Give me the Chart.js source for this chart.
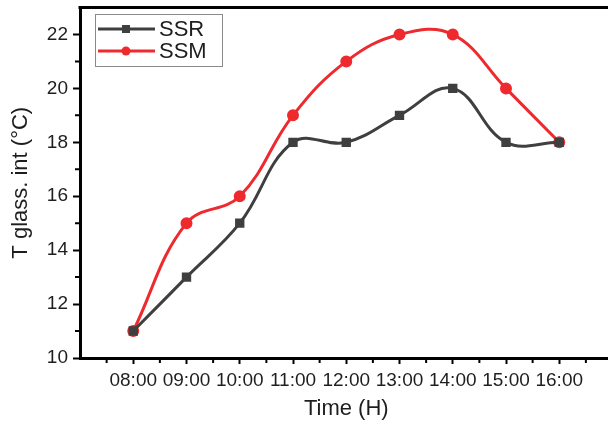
<!DOCTYPE html>
<html>
<head>
<meta charset="utf-8">
<script src="https://cdn.jsdelivr.net/npm/chart.js@4.4.1/dist/chart.umd.min.js"></script>
<style>
  html, body { margin: 0; padding: 0; background: #fff; overflow: hidden; }
  #wrap { width: 620px; height: 426px; }
</style>
</head>
<body>
<div id="wrap"><canvas id="glassChart" width="620" height="426"></canvas></div>
<script>
// Glass interior temperature, SSR vs SSM

const hours = [8, 9, 10, 11, 12, 13, 14, 15, 16];
const hourLabels = ['08:00', '09:00', '10:00', '11:00', '12:00', '13:00', '14:00', '15:00', '16:00'];
const ssr = [11, 13, 15, 18, 18, 19, 20, 18, 18];
const ssm = [11, 15, 16, 19, 21, 22, 22, 20, 18];
const yTicks = [10, 12, 14, 16, 18, 20, 22];

const FONT = '"Liberation Sans", Arial, sans-serif';
const TEXT = '#1e1e1e';

// top frame line, minor ticks and the boxed legend
const framePlugin = {
  id: 'frame',
  afterDraw(chart) {
    const { ctx, chartArea: a, scales: { x, y } } = chart;
    ctx.save();
    ctx.strokeStyle = '#000';
    ctx.lineWidth = 3;
    ctx.beginPath();
    ctx.moveTo(a.left - 1.5, a.top);
    ctx.lineTo(a.right + 10, a.top);
    ctx.stroke();

    // minor ticks
    ctx.lineWidth = 2;
    ctx.beginPath();
    for (let v = 11; v < 23; v += 2) {
      const py = y.getPixelForValue(v);
      ctx.moveTo(a.left - 1, py);
      ctx.lineTo(a.left - 5, py);
    }
    for (let v = 7.5; v < 17; v += 1) {
      const px = x.getPixelForValue(v);
      ctx.moveTo(px, a.bottom + 1);
      ctx.lineTo(px, a.bottom + 5);
    }
    ctx.stroke();

    // legend
    const lx = 95, ly = 14, lw = 127, lh = 52;
    ctx.lineWidth = 1;
    ctx.strokeStyle = '#8a8a8a';
    ctx.strokeRect(lx + 0.5, ly + 0.5, lw, lh);
    const items = [
      { label: 'SSR', color: '#3f3f3f', shape: 'rect', yy: ly + 15 },
      { label: 'SSM', color: '#ee2a2e', shape: 'circle', yy: ly + 37 }
    ];
    items.forEach(it => {
      ctx.strokeStyle = it.color;
      ctx.fillStyle = it.color;
      ctx.lineWidth = 3;
      ctx.beginPath();
      ctx.moveTo(lx + 3, it.yy);
      ctx.lineTo(lx + 60, it.yy);
      ctx.stroke();
      ctx.beginPath();
      if (it.shape === 'rect') ctx.rect(lx + 27, it.yy - 4, 8, 8);
      else ctx.arc(lx + 31, it.yy, 4.5, 0, Math.PI * 2);
      ctx.fill();
      ctx.fillStyle = TEXT;
      ctx.font = '22px ' + FONT;
      ctx.textBaseline = 'middle';
      ctx.fillText(it.label, lx + 64, it.yy + 1);
    });
    ctx.restore();
  }
};

new Chart(document.getElementById('glassChart'), {
  type: 'line',
  data: {
    datasets: [
      {
        label: 'SSR',
        data: hours.map((h, i) => ({ x: h, y: ssr[i] })),
        borderColor: '#3f3f3f',
        backgroundColor: '#3f3f3f',
        borderWidth: 3,
        pointStyle: 'rect',
        pointRadius: 4.5,
        tension: 0.4
      },
      {
        label: 'SSM',
        data: hours.map((h, i) => ({ x: h, y: ssm[i] })),
        borderColor: '#ee2a2e',
        backgroundColor: '#ee2a2e',
        borderWidth: 3,
        pointStyle: 'circle',
        pointRadius: 4.5,
        tension: 0.4
      }
    ]
  },
  options: {
    responsive: false,
    animation: false,
    layout: { padding: { left: 0, right: 5, top: 7, bottom: 0 } },
    plugins: {
      legend: { display: false },
      tooltip: { enabled: false }
    },
    scales: {
      x: {
        type: 'linear',
        min: 7,
        max: 17,
        afterBuildTicks: s => { s.ticks = hours.map(v => ({ value: v })); },
        afterFit: s => { s.height = 68; s.paddingLeft = 0; s.paddingRight = 0; },
        grid: { drawOnChartArea: false, tickLength: 6, tickWidth: 2, tickColor: '#000' },
        border: { display: true, color: '#000', width: 3 },
        ticks: {
          autoSkip: false,
          maxRotation: 0,
          padding: 5,
          color: TEXT,
          font: { family: FONT, size: 19 },
          callback: v => hourLabels[hours.indexOf(v)]
        },
        title: {
          display: true,
          text: 'Time (H)',
          color: TEXT,
          font: { family: FONT, size: 22 },
          padding: { top: 2 }
        }
      },
      y: {
        min: 10,
        max: 23,
        afterBuildTicks: s => { s.ticks = yTicks.map(v => ({ value: v })); },
        afterFit: s => { s.width = 80; s.paddingTop = 0; s.paddingBottom = 0; },
        grid: { drawOnChartArea: false, tickLength: 7, tickWidth: 2, tickColor: '#000' },
        border: { display: true, color: '#000', width: 3 },
        ticks: {
          padding: 5,
          color: TEXT,
          font: { family: FONT, size: 19 }
        },
        title: {
          display: true,
          text: 'T glass. int (°C)',
          color: TEXT,
          font: { family: FONT, size: 22 },
          padding: { top: 8, bottom: 0 }
        }
      }
    }
  },
  plugins: [framePlugin]
});
</script>
</body>
</html>
